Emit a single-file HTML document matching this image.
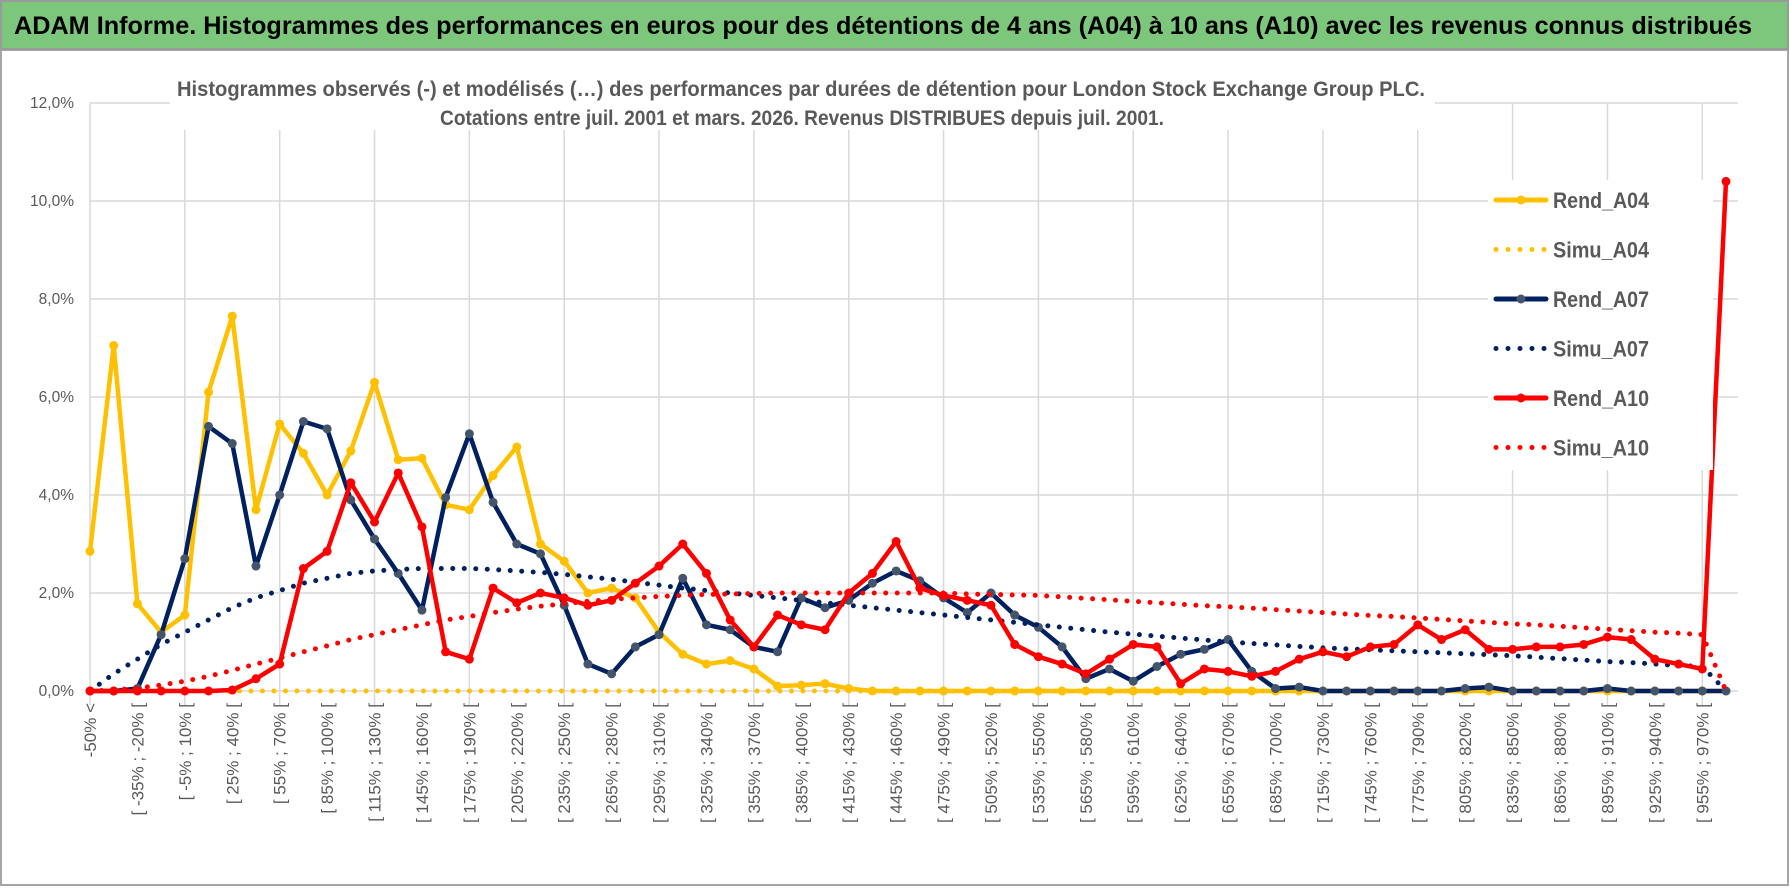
<!DOCTYPE html>
<html><head><meta charset="utf-8">
<style>
html,body{margin:0;padding:0;background:#fff;}
svg{display:block;font-family:"Liberation Sans",sans-serif;}
</style></head>
<body>
<svg id="chart" width="1790" height="888" viewBox="0 0 1790 888" xmlns="http://www.w3.org/2000/svg">
  <rect x="0" y="0" width="1790" height="888" fill="#fff"/>
  <rect x="1" y="50" width="1787" height="835" fill="none" stroke="#a6a6a6" stroke-width="2"/>
  <rect x="1" y="1" width="1787" height="48" fill="#7cc77c" stroke="#9a9a9a" stroke-width="2"/>
  <text x="14" y="34" font-size="25" font-weight="bold" fill="#000" textLength="1738" lengthAdjust="spacingAndGlyphs">ADAM Informe. Histogrammes des performances en euros pour des détentions de 4 ans (A04) à 10 ans (A10) avec les revenus connus distribués</text>
  <g id="grid"></g>
  <rect x="170" y="68" width="1265" height="62" fill="#fff"/>
  <text x="177" y="96" font-size="21" font-weight="bold" fill="#595959" textLength="1248" lengthAdjust="spacingAndGlyphs">Histogrammes observés (-) et modélisés (…) des performances par durées de détention pour London Stock Exchange Group PLC.</text>
  <text x="440" y="125" font-size="21" font-weight="bold" fill="#595959" textLength="724" lengthAdjust="spacingAndGlyphs">Cotations entre juil. 2001 et mars. 2026.  Revenus DISTRIBUES  depuis juil. 2001.</text>
  <g id="yaxis"></g>
  <g id="xaxis"></g>
  <g id="series"></g>
  <g id="legend"></g>
</svg>
<script>
const yTicks = [0, 2, 4, 6, 8, 10, 12];
const rendA04 = [2.85,7.05,1.78,1.2,1.55,6.1,7.65,3.7,5.45,4.85,4.0,4.9,6.3,4.72,4.75,3.8,3.7,4.4,4.98,3.0,2.65,2.0,2.1,1.9,1.2,0.75,0.55,0.62,0.45,0.1,0.12,0.15,0.05,0,0,0,0,0,0,0,0,0,0,0,0,0,0,0,0,0,0,0,0,0,0,0,0,0,0,0,0,0,0,0,0,0,0,0,0,0];
const simuA04 = [0,0,0,0,0,0,0,0,0,0,0,0,0,0,0,0,0,0,0,0,0,0,0,0,0,0,0,0,0,0,0,0,0,0,0,0,0,0,0,0,0,0,0,0,0,0,0,0,0,0,0,0,0,0,0,0,0,0,0,0,0,0,0,0,0,0,0,0,0,0];
const rendA07 = [0,0,0.05,1.15,2.7,5.4,5.05,2.55,4.0,5.5,5.35,3.9,3.1,2.4,1.65,3.95,5.25,3.85,3.0,2.8,1.75,0.55,0.35,0.9,1.15,2.3,1.35,1.25,0.9,0.8,1.9,1.7,1.85,2.2,2.45,2.25,1.9,1.6,2.0,1.55,1.3,0.9,0.25,0.45,0.2,0.5,0.75,0.85,1.05,0.4,0.05,0.08,0,0,0,0,0,0,0.05,0.08,0,0,0,0,0.05,0,0,0,0,0];
const simuA07 = [0,0.35,0.65,0.95,1.2,1.45,1.7,1.9,2.05,2.2,2.3,2.4,2.45,2.48,2.5,2.5,2.5,2.48,2.45,2.42,2.38,2.33,2.28,2.22,2.16,2.1,2.05,2.0,1.95,1.9,1.85,1.8,1.75,1.7,1.65,1.6,1.55,1.5,1.45,1.4,1.35,1.3,1.25,1.2,1.16,1.12,1.08,1.04,1.0,0.97,0.94,0.91,0.88,0.86,0.84,0.82,0.8,0.78,0.76,0.74,0.72,0.69,0.66,0.63,0.6,0.58,0.55,0.52,0.5,0];
const rendA10 = [0,0,0,0,0,0,0.02,0.25,0.55,2.5,2.85,4.25,3.45,4.45,3.35,0.8,0.65,2.1,1.8,2.0,1.9,1.75,1.85,2.2,2.55,3.0,2.4,1.45,0.9,1.55,1.35,1.25,2.0,2.4,3.05,2.1,1.95,1.85,1.75,0.95,0.7,0.55,0.35,0.65,0.95,0.9,0.15,0.45,0.4,0.3,0.4,0.65,0.8,0.7,0.9,0.95,1.35,1.05,1.25,0.85,0.85,0.9,0.9,0.95,1.1,1.05,0.65,0.55,0.45,10.4];
const simuA10 = [0,0.02,0.06,0.12,0.2,0.3,0.42,0.55,0.67,0.8,0.92,1.05,1.15,1.25,1.35,1.45,1.52,1.6,1.67,1.73,1.78,1.83,1.87,1.9,1.93,1.95,1.97,1.98,1.99,2.0,2.0,2.0,2.0,2.0,2.0,2.0,2.0,1.98,1.97,1.96,1.95,1.92,1.89,1.86,1.83,1.8,1.77,1.74,1.72,1.69,1.66,1.63,1.6,1.57,1.54,1.52,1.49,1.46,1.43,1.4,1.37,1.35,1.32,1.29,1.26,1.23,1.2,1.18,1.15,0];
const seriesNames = ["Rend_A04","Simu_A04","Rend_A07","Simu_A07","Rend_A10","Simu_A10"];

const categories = [];
categories.push("-50% <");
for (let k = 1; k <= 68; k++) {
  const a = -50 + 15 * (k - 1), b = a + 15;
  categories.push("[ " + a + "% ; " + b + "% [");
}
categories.push("970% >");

const NS = "http://www.w3.org/2000/svg";
const X0 = 90, X1 = 1726, Y0 = 691, YPER = 49;
const xScale = i => X0 + i * (X1 - X0) / (categories.length - 1);
const yScale = v => Y0 - v * YPER;
function mk(tag, attrs, parent) {
  const e = document.createElementNS(NS, tag);
  for (const k in attrs) e.setAttribute(k, attrs[k]);
  parent.appendChild(e);
  return e;
}
const grid = document.getElementById('grid');
yTicks.forEach(t => {
  const l = mk('line', {x1: X0, x2: 1738, y1: yScale(t), y2: yScale(t), stroke: '#d9d9d9', 'stroke-width': 1.5}, grid);
  
  
});
for (let i = 0; i < categories.length; i += 4) {
  const l = mk('line', {x1: xScale(i), x2: xScale(i), y1: yScale(12), y2: 705, stroke: '#d9d9d9', 'stroke-width': 1.5}, grid);
  
  
}
const yaxis = document.getElementById('yaxis');
yTicks.forEach(t => {
  const tx = mk('text', {x: 74, y: yScale(t) + 5, 'text-anchor': 'end', 'font-size': 15.5, fill: '#595959'}, yaxis);
  tx.textContent = t.toFixed(1).replace('.', ',') + '%';
  
  
});
const xaxis = document.getElementById('xaxis');
for (let i = 0; i < categories.length; i += 2) {
  const x = xScale(i) + 6, y = 703;
  const tx = mk('text', {x: x, y: y, 'text-anchor': 'end', 'font-size': 17, fill: '#595959', transform: 'rotate(-90 ' + x + ' ' + y + ')'}, xaxis);
  tx.textContent = categories[i];
  
  
}
const sg = document.getElementById('series');
function solid(vals, color, mfill, name) {
  const g = mk('g', {}, sg);
  
  
  const pl = mk('polyline', {points: vals.map((v, i) => xScale(i) + ',' + yScale(v)).join(' '), fill: 'none', stroke: color, 'stroke-width': 4.5, 'stroke-linejoin': 'round'}, g);
  
  
  vals.forEach((v, i) => {
    const c = mk('circle', {cx: xScale(i), cy: yScale(v), r: 4.5, fill: mfill}, g);
    
    
  });
}
function dotted(vals, color, name) {
  const pl = mk('polyline', {points: vals.map((v, i) => xScale(i) + ',' + yScale(v)).join(' '), fill: 'none', stroke: color, 'stroke-width': 5, 'stroke-linecap': 'round', 'stroke-dasharray': '0 11.5'}, sg);
  
  
}
solid(rendA04, '#ffc000', '#ffc000', 'rend-a04');
dotted(simuA04, '#ffc000', 'simu-a04');
solid(rendA07, '#002060', '#44546a', 'rend-a07');
dotted(simuA07, '#002060', 'simu-a07');
solid(rendA10, '#ff0000', '#ff0000', 'rend-a10');
dotted(simuA10, '#ff0000', 'simu-a10');

const lg = document.getElementById('legend');
const bg = mk('rect', {x: 1488, y: 180, width: 225, height: 290, fill: '#fff'}, lg);


const lcol = ['#ffc000','#ffc000','#002060','#002060','#ff0000','#ff0000'];
const lmk = ['#ffc000',null,'#44546a',null,'#ff0000',null];
seriesNames.forEach((n, k) => {
  const y = 200 + k * 49.5;
  const g = mk('g', {}, lg);
  
  
  if (k % 2 === 0) {
    mk('line', {x1: 1496, x2: 1546, y1: y, y2: y, stroke: lcol[k], 'stroke-width': 5, 'stroke-linecap': 'round'}, g);
    mk('circle', {cx: 1521, cy: y, r: 4.5, fill: lmk[k]}, g);
  } else {
    mk('line', {x1: 1496, x2: 1546, y1: y, y2: y, stroke: lcol[k], 'stroke-width': 5, 'stroke-linecap': 'round', 'stroke-dasharray': '0 12'}, g);
  }
  const t = mk('text', {x: 1553, y: y + 8, 'font-size': 22, 'font-weight': 'bold', fill: '#595959', textLength: 96, lengthAdjust: 'spacingAndGlyphs'}, g);
  t.textContent = n;
});
</script>
</body></html>
